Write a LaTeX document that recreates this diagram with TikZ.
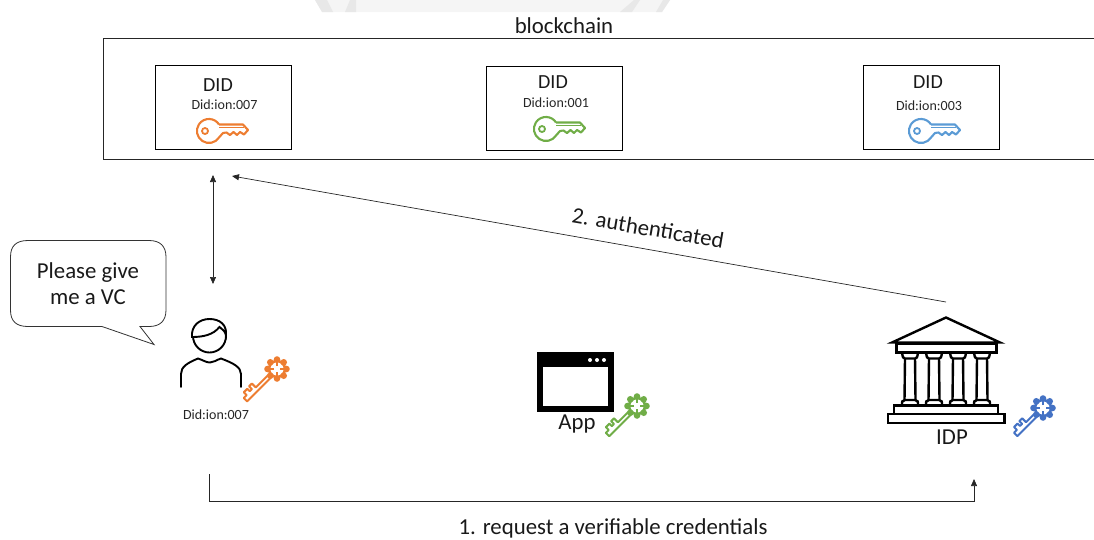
\documentclass[tikz,border=0pt]{standalone}
\usepackage{fontspec}
\setmainfont{Carlito}
\usetikzlibrary{arrows.meta}
\definecolor{korange}{HTML}{ED7D31}
\definecolor{kgreen}{HTML}{70AD47}
\definecolor{kblue}{HTML}{4472C4}
\definecolor{kblue2}{HTML}{5B9BD5}
\definecolor{linegrey}{HTML}{262626}
\def\kl{40}
\tikzset{
  x=1pt,y=-1pt,
  keylen/.store in=\kl,
  box/.style={draw=black,line width=0.8pt,inner sep=0pt,minimum width=136pt,minimum height=84pt},
  lbl/.style={inner sep=0pt,text=black!90,font=\fontsize{22.8}{25}\selectfont},
  didlbl/.style={inner sep=0pt,text=black!90,font=\fontsize{20}{22}\selectfont},
  small/.style={inner sep=0pt,text=black!85,font=\fontsize{14}{16}\selectfont},
  conn/.style={draw=linegrey,line width=0.7pt,-{Triangle[length=7pt,width=6pt]}},
  both/.style={draw=linegrey,line width=0.7pt,{Triangle[length=7pt,width=6pt]}-{Triangle[length=7pt,width=6pt]}},
  icon/.style={draw=black,line width=2.4pt,line join=miter},
  flatkey/.pic={
    \draw[line width=2.1pt,line join=round,draw=#1]
      (10,-6.5) -- (34,-6.5) -- (39,-1) -- (35,3.5) -- (31,1) -- (28,4) -- (24.5,1) -- (21,4) -- (17.5,1.5) -- (14,2) -- (10,6.5)
      arc[start angle=-33,end angle=-327,radius=12pt];
    \draw[line width=1.8pt,draw=#1] (-4,0) circle[radius=3pt];
    \draw[line width=1.2pt,draw=#1] (10,-3.3) -- (35,-3.3);
  },
  ornatekey/.pic={
    \begin{scope}[rotate=-135]
    \draw[line width=2pt,draw=#1,line join=round]
      (10,-1.8) -- (\kl,-1.8) -- (\kl,3) -- (\kl-4,3) -- (\kl-4,7) -- (\kl-9,7) -- (\kl-9,3.5) -- (\kl-12,3.5) -- (\kl-12,7.5) -- (\kl-16,7.5) -- (\kl-16,2) -- (10,2);
    \foreach \a in {0,45,...,315}
      \fill[#1] (\a:9.5) circle[radius=3.3pt];
    \draw[line width=2.6pt,draw=#1] (0,0) circle[radius=8pt];
    \foreach \a in {0,90,180,270}
      \draw[line width=1.6pt,draw=#1] (\a+45:3) -- (\a+45:8);
    \end{scope}
  }
}
\begin{document}
\begin{tikzpicture}
\useasboundingbox (0,0) rectangle (1094,539);
% faint remnant at the top
\fill[black!4] (315,0) -- (322,12) -- (662,12) -- (670,0) -- cycle;
\fill[black!9] (315,0) -- (322,12) -- (333,12) -- (327,0) -- cycle;
\fill[black!9] (345,12) -- (350,0) -- (356,0) -- (356,12) -- cycle;
\fill[black!9] (620,12) -- (634,0) -- (640,0) -- (632,12) -- cycle;
\fill[black!9] (656,12) -- (663,0) -- (670,0) -- (662,12) -- cycle;

\node[lbl] (chainlabel) at (564,26) {blockchain};
\coordinate (chainTL) at (103.5,38);
\coordinate (chainTR) at (1094,38);
\coordinate (chainBL) at (103.5,159.5);
\coordinate (chainBR) at (1094,159.5);
\draw[draw=linegrey,line width=0.8pt] (chainTR) -- (chainTL) -- (chainBL) -- (chainBR);

\node[box] (did7) at (223.5,107.5) {};
\node[box] (did1) at (554,108.5) {};
\node[box] (did3) at (931,107.5) {};
\node[didlbl] (did7t) at (218,85) {DID};
\node[didlbl] (did1t) at (553,82) {DID};
\node[didlbl] (did3t) at (928,82) {DID};
\node[small] (did7s) at (224.5,105) {Did:ion:007};
\node[small] (did1s) at (556,102.5) {Did:ion:001};
\node[small] (did3s) at (929,105.5) {Did:ion:003};
\pic at (209,131) {flatkey=korange};
\pic at (546,129) {flatkey=kgreen};
\pic at (921,131) {flatkey=kblue2};

% bubble
\path[fill=white,draw=black!80,line width=0.8pt]
  (28,240.5) -- (149,240.5) .. controls (160,240.5) and (166,246) .. (166,257)
  -- (166,310) .. controls (166,321) and (160,326.5) .. (149,326.5)
  -- (140,326.5) -- (154,344.5) -- (102,326.5) -- (28,326.5)
  .. controls (16,326.5) and (10.5,321) .. (10.5,310) -- (10.5,257)
  .. controls (10.5,246) and (16,240.5) .. (28,240.5) -- cycle;
\node[lbl,align=center] (bubbletext) at (88,284) {Please give\\[1pt]me a VC};

% person
\draw[line width=1.9pt,draw=black] (209.5,336) circle[radius=16.5pt];
\draw[line width=1.9pt,draw=black,fill=white] (192,337) .. controls (203,337) and (213,335) .. (219.5,327)
   .. controls (222,329) and (225,331) .. (226,335) .. controls (227,325) and (220,319) .. (209.5,319)
   .. controls (199,319) and (191,326) .. (192,337) -- cycle;
\draw[line width=1.9pt,draw=black,line cap=round]
  (181,387) -- (181,374) .. controls (181,367) and (187,363) .. (198,358.5)
  .. controls (203,360) and (206,362.5) .. (210,362.5) .. controls (214,362.5) and (216,360) .. (221,358.5)
  .. controls (233,363) and (241,367) .. (241,374) -- (241,387);
\pic[keylen=44] at (277,369) {ornatekey=korange};
\node[small] (user) at (216,414.5) {Did:ion:007};

% app
\draw[draw=black,line width=5.5pt] (540,355) rectangle (611,409);
\fill[black] (537.5,352.5) rectangle (613.5,367);
\fill[white] (590,360) circle[radius=2pt] (597,360) circle[radius=2pt];
\fill[white] (604,360) circle[radius=2pt];
\node[lbl] (app) at (577,424) {App};
\pic[keylen=41] at (637,406) {ornatekey=kgreen};

% IDP
\draw[icon,fill=white] (946,317.5) -- (1000,342.5) -- (892,342.5) -- cycle;
\draw[icon] (896.5,344) rectangle (996.5,352.5);
\foreach \cx in {910,934,958,982}{
  \draw[draw=black,line width=2.4pt] (\cx-5,358) -- (\cx-5.5,400) (\cx+5,358) -- (\cx+5.5,400);
  \draw[draw=black,line width=2.4pt] (\cx-8,353) .. controls (\cx-7,358) .. (\cx-5,358.5) -- (\cx+5,358.5) .. controls (\cx+7,358) .. (\cx+8,353);
  \draw[draw=black,line width=2.4pt] (\cx-8,405) .. controls (\cx-8,401) .. (\cx-5,400) -- (\cx+5,400) .. controls (\cx+8,401) .. (\cx+8,405);
}
\draw[icon] (894,405.5) rectangle (998,414);
\draw[icon] (888,414) rectangle (1004.5,423);
\node[lbl] (idp) at (952,437) {IDP};
\pic[keylen=38] at (1043,408) {ornatekey=kblue};

% connectors
\coordinate (dblTop) at (213,175);
\coordinate (dblBot) at (213,284);
\draw[both] (dblTop) -- (dblBot);
\coordinate (authFrom) at (946,302);
\coordinate (authTo) at (232,176);
\draw[conn] (authFrom) -- (authTo);
\node[lbl,rotate=-9.6] (auth) at (648,228) {2. authenticated};
\coordinate (reqFrom) at (209,474);
\coordinate (reqTo) at (974,479);
\draw[conn] (reqFrom) -- (209,501.5) -- (974,501.5) -- (reqTo);
\node[lbl] (req) at (613,528) {1. request a verifiable credentials};
\end{tikzpicture}
\end{document}
